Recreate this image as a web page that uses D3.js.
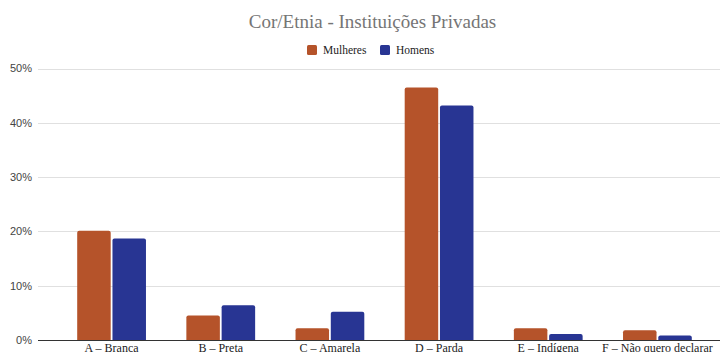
<!DOCTYPE html>
<html>
<head>
<meta charset="utf-8">
<script src="https://cdn.jsdelivr.net/npm/d3@7"></script>
<style>
  html, body { margin: 0; padding: 0; background: #fff; overflow: hidden; }
  svg { display: block; }
  .title { font-family: "Liberation Serif", "Times New Roman", serif; fill: #757575; }
  .legend text, .xlab { font-family: "Liberation Serif", "Times New Roman", serif; fill: #222; }
  .yaxis text { font-family: "Liberation Sans", Arial, sans-serif; fill: #444; }
</style>
</head>
<body>
<svg id="chart" width="720" height="352"></svg>
<script>
  // values (percent)
  var categories = ["A – Branca", "B – Preta", "C – Amarela", "D – Parda", "E – Indígena", "F – Não quero declarar"];
  var seriesNames = ["Mulheres", "Homens"];
  var mulheres = [20.1, 4.5, 2.15, 46.5, 2.15, 1.8];
  var homens = [18.7, 6.4, 5.2, 43.2, 1.1, 0.85];
  var yTicks = [0, 10, 20, 30, 40, 50];
  var colors = ["#b5532a", "#283593"];

  var svg = d3.select("#chart");
  var width = 720, height = 352;
  var gridLeft = 38;

  var x = d3.scaleBand().domain(categories).range([57, 712]).paddingInner(0.37).paddingOuter(0.185);
  var xs = d3.scaleBand().domain(seriesNames).range([0, x.bandwidth()]).paddingInner(0.05);
  var y = d3.scaleLinear().domain([0, 50]).range([340, 68.5]);

  // gridlines
  svg.append("g")
    .selectAll("line")
    .data(yTicks.slice(1))
    .join("line")
    .attr("x1", gridLeft).attr("x2", width)
    .attr("y1", function (d) { return Math.round(y(d)) + 0.5; })
    .attr("y2", function (d) { return Math.round(y(d)) + 0.5; })
    .attr("stroke", "#e0e0e0").attr("stroke-width", 1);

  // y labels
  svg.append("g").attr("class", "yaxis")
    .selectAll("text")
    .data(yTicks)
    .join("text")
    .attr("x", 32).attr("y", function (d) { return y(d); })
    .attr("dy", "0.35em")
    .attr("text-anchor", "end")
    .attr("font-size", 11)
    .text(function (d) { return d + "%"; });

  var rows = categories.map(function (c, i) {
    return { cat: c, values: [mulheres[i], homens[i]] };
  });

  var groups = svg.append("g")
    .selectAll("g")
    .data(rows)
    .join("g")
    .attr("transform", function (d) { return "translate(" + x(d.cat) + ",0)"; });

  groups.selectAll("path")
    .data(function (d) {
      return d.values.map(function (v, j) { return { name: seriesNames[j], value: v, j: j }; });
    })
    .join("path")
    .attr("fill", function (d) { return colors[d.j]; })
    .attr("d", function (d) {
      var x0 = xs(d.name), w = xs.bandwidth();
      var top = y(d.value), bot = y(0), r = 2;
      return "M" + x0 + "," + bot +
        "V" + (top + r) +
        "Q" + x0 + "," + top + " " + (x0 + r) + "," + top +
        "H" + (x0 + w - r) +
        "Q" + (x0 + w) + "," + top + " " + (x0 + w) + "," + (top + r) +
        "V" + bot + "Z";
    });

  // baseline
  svg.append("line")
    .attr("x1", gridLeft).attr("x2", width)
    .attr("y1", 340.5).attr("y2", 340.5)
    .attr("stroke", "#333").attr("stroke-width", 1);

  // x labels (the reference crops them at the bottom edge)
  svg.append("g")
    .selectAll("text")
    .data(categories)
    .join("text")
    .attr("class", "xlab")
    .attr("x", function (d) { return x(d) + x.bandwidth() / 2; })
    .attr("y", 352)
    .attr("text-anchor", "middle")
    .attr("font-size", 12)
    .text(function (d) { return d; });

  // title
  svg.append("text")
    .attr("class", "title")
    .attr("x", 372.5).attr("y", 28)
    .attr("text-anchor", "middle")
    .attr("font-size", 19)
    .text("Cor/Etnia - Instituições Privadas");

  // legend
  var legendItems = [
    { name: seriesNames[0], x: 307, color: colors[0] },
    { name: seriesNames[1], x: 380, color: colors[1] }
  ];
  var lg = svg.append("g").attr("class", "legend")
    .selectAll("g")
    .data(legendItems)
    .join("g")
    .attr("transform", function (d) { return "translate(" + d.x + ",45)"; });
  lg.append("rect")
    .attr("width", 10).attr("height", 10).attr("rx", 1.5)
    .attr("fill", function (d) { return d.color; });
  lg.append("text")
    .attr("x", 16).attr("y", 5).attr("dy", "0.35em")
    .attr("font-size", 11.5)
    .text(function (d) { return d.name; });
</script>
</body>
</html>
